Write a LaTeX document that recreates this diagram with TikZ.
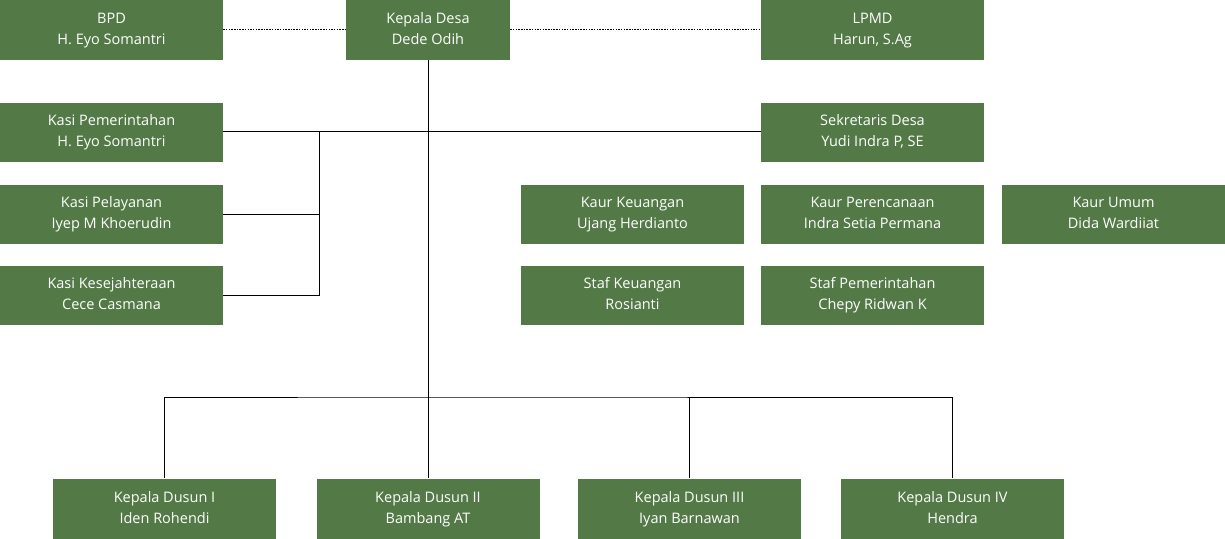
\documentclass[tikz,border=0pt]{standalone}
\usepackage{fontspec}
\setmainfont{Open Sans}
\usetikzlibrary{positioning}
\definecolor{leaf}{HTML}{527946}
\def\duo#1#2{\strut #1\\\strut #2}
\tikzset{
	post/.style={fill=leaf, text=white, align=center, inner sep=0pt,
		minimum width=223pt, minimum height=59pt,
		font=\fontsize{14.5}{21}\selectfont},
	link/.style={line width=0.9pt, color=black},
	advise/.style={line width=1pt, color=black, dash pattern=on 1.5pt off 1.2pt}
}

\begin{document}
\begin{tikzpicture}[x=1pt, y=-1pt]
			%%%%% START %%%%%
			\useasboundingbox (0, 0) rectangle (1225, 538);
			
			% top row
			\node[post, minimum height=60pt] (bpd) at (111.5, 30) {\duo{BPD}{H. Eyo Somantri}};
			\node[post, minimum height=60pt, minimum width=164pt] (desa) at (428, 30) {\duo{Kepala Desa}{Dede Odih}};
			\node[post, minimum height=60pt] (lpmd) at (872.5, 30) {\duo{LPMD}{Harun, S.Ag}};
			
			% kasi
			\node[post] (pem) at (111.5, 132) {\duo{Kasi Pemerintahan}{H. Eyo Somantri}};
			\node[post] (pel) at (111.5, 214) {\duo{Kasi Pelayanan}{Iyep M Khoerudin}};
			\node[post] (kesej) at (111.5, 295) {\duo{Kasi Kesejahteraan}{Cece Casmana}};
			
			% sekretariat
			\node[post] (sek) at (872.5, 132) {\duo{Sekretaris Desa}{Yudi Indra P, SE}};
			\node[post] (keu) at (632.5, 214) {\duo{Kaur Keuangan}{Ujang Herdianto}};
			\node[post] (ren) at (872.5, 214) {\duo{Kaur Perencanaan}{Indra Setia Permana}};
			\node[post] (umum) at (1113.5, 214) {\duo{Kaur Umum}{Dida Wardiiat}};
			\node[post] (stafkeu) at (632.5, 295) {\duo{Staf Keuangan}{Rosianti}};
			\node[post] (stafpem) at (872.5, 295) {\duo{Staf Pemerintahan}{Chepy Ridwan K}};
			
			% dusun
			\node[post, minimum height=60pt] (dus1) at (164.5, 508.5) {\duo{Kepala Dusun I}{Iden Rohendi}};
			\node[post, minimum height=60pt] (dus2) at (428, 508.5) {\duo{Kepala Dusun II}{Bambang AT}};
			\node[post, minimum height=60pt] (dus3) at (689.5, 508.5) {\duo{Kepala Dusun III}{Iyan Barnawan}};
			\node[post, minimum height=60pt] (dus4) at (952.5, 508.5) {\duo{Kepala Dusun IV}{Hendra}};
			
			\coordinate (hub) at (428, 397);
			\coordinate (kasibus) at (319, 131);
			
			\draw[advise] (bpd.east |- 0,29.5) -- (desa.west |- 0,29.5);
			\draw[advise] (desa.east |- 0,29.5) -- (lpmd.west |- 0,29.5);
			
			\draw[link] (desa.south) -- (hub);
			\draw[link] (pem.east |- kasibus) -- (sek.west |- kasibus);
			\draw[link] (kasibus) |- (kesej.east);
			\draw[link] (pel.east) -- (pel.east -| kasibus);
			
			\draw[link] (dus1.north) |- (hub) -| (dus4.north);
			\draw[link] (dus2.north) -- (dus2.north |- hub);
			\draw[link] (dus3.north) -- (dus3.north |- hub);
			%%%%% END %%%%%
\end{tikzpicture}
\end{document}
